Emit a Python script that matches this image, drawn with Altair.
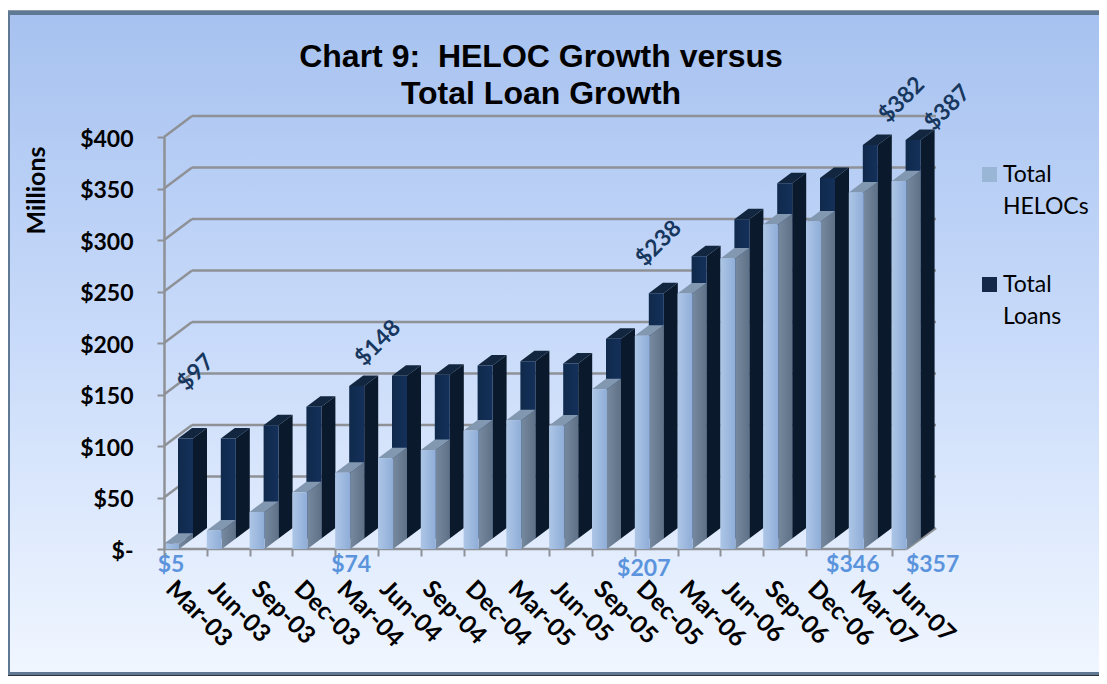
import json
import math
import altair as alt
import pandas as pd

# ---- data ----
quarters = ["Mar-03","Jun-03","Sep-03","Dec-03","Mar-04","Jun-04","Sep-04","Dec-04","Mar-05",
            "Jun-05","Sep-05","Dec-05","Mar-06","Jun-06","Sep-06","Dec-06","Mar-07","Jun-07"]
helocs = [5,18,36,55,74,88,96,115,125,120,155,207,248,282,315,318,346,357]
loans = [97,97,110,128,148,158,159,168,172,170,194,238,274,310,345,350,382,387]
y_ticks = [0,50,100,150,200,250,300,350,400]
series_names = [["Total","HELOCs"],["Total","Loans"]]
chart_title = ["Chart 9:\u00a0 HELOC Growth versus","Total Loan Growth"]

# ---- layout ----
STEP = 42.8           # px per category
PPU = 1.03            # px per $ million
LEFT, TOP = 164, 137  # image position of the plot origin
W, H = 772, 412
X_MAX = W / STEP
BAR_W = 15 / STEP
ROW_X = 14 / STEP
ROW_Y = 10.5 / PPU
LAB = "Lato"
ARIAL = "Liberation Sans"
GRID = "#8e9196"

xs = alt.Scale(domain=[0, X_MAX], nice=False, zero=False)
ys = alt.Scale(domain=[0, 400], nice=False, zero=False)

x_axis = alt.Axis(
    title=None, values=list(range(len(quarters))), labelExpr=f"{json.dumps(quarters)}[datum.value]",
    labelAngle=45, labelAlign="left", labelBaseline="middle", labelPadding=29, labelOffset=5, labelFont=LAB,
    labelFontWeight="bold", labelFontSize=24.5, labelColor="#000000", labelOverlap=False,
    labelFlush=False, tickSize=7, tickWidth=2, tickColor=GRID, domain=False, grid=False, zindex=1)
y_axis = alt.Axis(
    title="Millions", values=y_ticks, labelExpr="datum.value === 0 ? '$-' : '$' + datum.value",
    labelPadding=24, labelOffset=2, labelFont=LAB, labelFontWeight="bold", labelFontSize=23, labelColor="#000000",
    labelOverlap=False, labelFlush=False, tickSize=7, tickWidth=2, tickColor=GRID,
    domainColor=GRID, domainWidth=2.5, grid=False, zindex=1,
    titleFont=LAB, titleFontWeight="bold", titleFontSize=25, titleColor="#000000",
    titleX=49 - LEFT, titleY=190 - TOP)

def px(v): return alt.value(v - LEFT)
def py(v): return alt.value(v - TOP)
def X(f="x"): return alt.X(f"{f}:Q", scale=xs, axis=x_axis)
def Y(f="y"): return alt.Y(f"{f}:Q", scale=ys, axis=y_axis, stack=None)

def lin(a, b):
    return alt.Gradient(gradient="linear", x1=0, y1=0, x2=1, y2=0,
                        stops=[alt.GradientStop(offset=0, color=a), alt.GradientStop(offset=1, color=b)])

def rect_px(x0, y0, x1, y1, fill):
    return alt.Chart(pd.DataFrame({"a":[0]})).mark_rect(fill=fill).encode(
        x=px(x0), x2=px(x1), y=py(y0), y2=py(y1))

panel = [
    rect_px(8, 10, 1099, 676, "#8b98a8"),
    rect_px(8, 11, 1099, 676, "#5f7995"),
    rect_px(8, 675, 1099, 676, "#2e3236"),
    rect_px(10, 15, 1099, 672, alt.Gradient(gradient="linear", x1=0, y1=0, x2=0, y2=1, stops=[
        alt.GradientStop(offset=0, color="#a7c2f0"),
        alt.GradientStop(offset=0.5, color="#c9dbfa"),
        alt.GradientStop(offset=1, color="#f0f6ff")])),
]

# ---- walls ----
wx, wy = 2 * ROW_X, 2 * ROW_Y
end_x = X_MAX
front_end = 17 + BAR_W
rules = []
for v in y_ticks[1:]:
    rules.append({"x":0,"x2":wx,"y":v,"y2":v+wy})
    rules.append({"x":wx,"x2":end_x,"y":v+wy,"y2":v+wy})
rules.append({"x":0,"x2":wx,"y":0,"y2":wy})
rules.append({"x":front_end,"x2":end_x,"y":0,"y2":wy})
rules.append({"x":0,"x2":front_end,"y":0,"y2":0})
walls = alt.Chart(pd.DataFrame(rules)).mark_rule(color=GRID, strokeWidth=2.5).encode(
    x=X(), x2="x2:Q", y=Y(), y2="y2:Q")

def faces(values, x0, y0):
    front, side, top = [], [], []
    for i, v in enumerate(values):
        a = i + x0
        b = a + BAR_W
        base, t = y0, y0 + v
        front.append({"x":a,"x2":b,"y":base,"y2":t})
        side += [{"i":i,"x":b,"y":base,"y2":t},{"i":i,"x":b+ROW_X,"y":base+ROW_Y,"y2":t+ROW_Y}]
        top += [{"i":i,"x":a,"y":t,"y2":t},{"i":i,"x":a+ROW_X,"y":t,"y2":t+ROW_Y},
                {"i":i,"x":b,"y":t,"y2":t+ROW_Y},{"i":i,"x":b+ROW_X,"y":t+ROW_Y,"y2":t+ROW_Y}]
    return pd.DataFrame(front), pd.DataFrame(side), pd.DataFrame(top)

def bars(values, x0, y0, front_fill, side_fill, top_fill):
    f, s, t = faces(values, x0, y0)
    return [
        alt.Chart(s).mark_area(fill=side_fill, interpolate="linear").encode(x=X(), y=Y(), y2="y2:Q", detail="i:N"),
        alt.Chart(t).mark_area(fill=top_fill, interpolate="linear").encode(x=X(), y=Y(), y2="y2:Q", detail="i:N"),
        alt.Chart(f).mark_rect(fill=front_fill).encode(x=X(), x2="x2:Q", y=Y(), y2="y2:Q"),
    ]

loan_layers = bars(loans, ROW_X, ROW_Y, lin("#102a4c", "#14305a"), "#0a1a2c", "#12263f")
heloc_layers = bars(helocs, 0, 0, lin("#adc6e6", "#8fadd8"), lin("#76899f", "#5f7186"), "#8297b0")

# ---- data labels ----
def heloc_label(idx, dx, dy=16):
    d = pd.DataFrame({"x":[idx], "y":[0], "t":[f"${helocs[idx]}"]})
    return alt.Chart(d).mark_text(font=LAB, fontWeight="bold", fontSize=23, color="#5b94dc",
                                  dx=dx, dy=dy, align="center", baseline="middle").encode(
        x=X(), y=Y(), text="t:N")

def loan_label(idx, sx, sy):
    # dx and dy of a rotated text act along its own axes
    c = math.sqrt(0.5)
    d = pd.DataFrame({"x":[idx], "y":[loans[idx] + ROW_Y], "t":[f"${loans[idx]}"]})
    return alt.Chart(d).mark_text(font=LAB, fontWeight="bold", fontSize=23, color="#17375e",
                                  angle=315, dx=c * (sx - sy), dy=c * (sx + sy),
                                  align="center", baseline="middle").encode(
        x=X(), y=Y(), text="t:N")

labels = [heloc_label(0, 7), heloc_label(4, 16), heloc_label(11, 9, 20), heloc_label(16, 4), heloc_label(17, 41),
          loan_label(0, 32, -66), loan_label(4, 43, -43), loan_label(11, 24, -50),
          loan_label(16, 53, -45), loan_label(17, 56, -32)]

# ---- legend ----
legend = []
for (names, sw, yy, fill) in [(series_names[0], 167, 164, "#9ab6d6"), (series_names[1], 277, 274, "#14294a")]:
    legend.append(rect_px(982, sw, 997, sw + 15, fill))
    legend.append(alt.Chart(pd.DataFrame({"a":[0]})).mark_text(
        text=names, font=LAB, fontSize=23, lineHeight=32, align="left", baseline="top", color="#000000"
    ).encode(x=px(1003), y=py(yy)))

# ---- title ----
title = alt.Chart(pd.DataFrame({"a":[0]})).mark_text(
    text=chart_title, font=ARIAL, fontWeight="bold", fontSize=32, lineHeight=37,
    align="center", baseline="middle", color="#000000"
).encode(x=px(541), y=py(56.5))

chart = alt.layer(*panel, walls, *loan_layers, *heloc_layers, *labels, *legend, title).properties(
    width=W, height=H,
    autosize=alt.AutoSizeParams(type="none"),
    padding={"left": LEFT - 8, "top": TOP - 8, "right": 1091 - (LEFT - 8) - W, "bottom": 668 - (TOP - 8) - H},
    background="#ffffff",
).configure_view(stroke=None)

chart.save("out.html", embed_options={"renderer": "svg", "actions": False})
